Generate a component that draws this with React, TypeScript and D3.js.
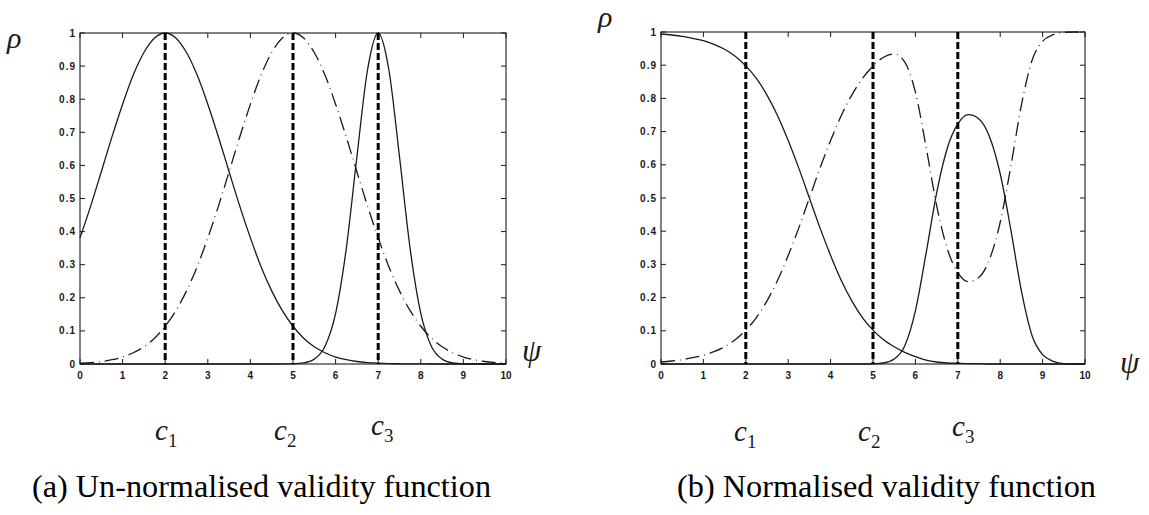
import React from "react";
import * as d3 from "d3";

// ψ sample grid
const PSI = [0, 0.25, 0.5, 0.75, 1, 1.25, 1.5, 1.75, 2, 2.25, 2.5, 2.75, 3, 3.25, 3.5, 3.75, 4, 4.25, 4.5, 4.75, 5, 5.25, 5.5, 5.75, 6, 6.25, 6.5, 6.75, 7, 7.25, 7.5, 7.75, 8, 8.25, 8.5, 8.75, 9, 9.25, 9.5, 9.75, 10];

// (a) un-normalised validity functions
const UN1 = [0.381, 0.477, 0.581, 0.686, 0.785, 0.873, 0.941, 0.985, 1, 0.985, 0.941, 0.873, 0.785, 0.686, 0.581, 0.477, 0.381, 0.294, 0.221, 0.161, 0.114, 0.078, 0.052, 0.034, 0.021, 0.013, 0.0075, 0.0043, 0.0024, 0.0013, 0.0007, 0.0003, 0.0002, 0, 0, 0, 0, 0, 0, 0, 0];
const UN2 = [0.0024, 0.0043, 0.0075, 0.013, 0.021, 0.034, 0.052, 0.078, 0.114, 0.161, 0.221, 0.294, 0.381, 0.477, 0.581, 0.686, 0.785, 0.873, 0.941, 0.985, 1, 0.985, 0.941, 0.873, 0.785, 0.686, 0.581, 0.477, 0.381, 0.294, 0.221, 0.161, 0.114, 0.078, 0.052, 0.034, 0.021, 0.013, 0.0075, 0.0043, 0.0024];
const UN3 = [0, 0, 0, 0, 0, 0, 0, 0, 0, 0, 0, 0, 0, 0, 0, 0, 0, 0, 0, 0.0001, 0.0006, 0.0032, 0.0147, 0.053, 0.153, 0.348, 0.626, 0.889, 1, 0.889, 0.626, 0.348, 0.153, 0.053, 0.0147, 0.0032, 0.0006, 0.0001, 0, 0, 0];

// (b) normalised validity functions
const N1 = [0.994, 0.991, 0.987, 0.981, 0.974, 0.963, 0.948, 0.927, 0.898, 0.86, 0.81, 0.748, 0.673, 0.59, 0.5, 0.41, 0.327, 0.252, 0.19, 0.14, 0.102, 0.073, 0.052, 0.035, 0.022, 0.012, 0.006, 0.003, 0.002, 0.001, 0.001, 0, 0, 0, 0, 0, 0, 0, 0, 0, 0];
const N2 = [0.006, 0.009, 0.013, 0.019, 0.026, 0.037, 0.052, 0.073, 0.102, 0.14, 0.19, 0.252, 0.327, 0.41, 0.5, 0.59, 0.673, 0.748, 0.81, 0.86, 0.897, 0.924, 0.934, 0.909, 0.819, 0.655, 0.478, 0.348, 0.275, 0.248, 0.261, 0.316, 0.427, 0.595, 0.78, 0.914, 0.972, 0.992, 0.999, 1, 1];
const N3 = [0, 0, 0, 0, 0, 0, 0, 0, 0, 0, 0, 0, 0, 0, 0, 0, 0, 0, 0, 0, 0.0005, 0.003, 0.015, 0.055, 0.16, 0.332, 0.515, 0.649, 0.723, 0.751, 0.738, 0.684, 0.573, 0.405, 0.22, 0.086, 0.028, 0.008, 0.001, 0, 0];

const CENTRES = [2, 5, 7];
const X_TICKS = [0, 1, 2, 3, 4, 5, 6, 7, 8, 9, 10];
const Y_TICKS = [0, 0.1, 0.2, 0.3, 0.4, 0.5, 0.6, 0.7, 0.8, 0.9, 1];
const Y_TICK_LABELS = ["0", "0.1", "0.2", "0.3", "0.4", "0.5", "0.6", "0.7", "0.8", "0.9", "1"];
const CENTRE_LABELS = ["1", "2", "3"];
const CAPTIONS = ["(a) Un-normalised validity function", "(b) Normalised validity function"];

const INK = "#1a1a1a";
const SERIF = "Liberation Serif, Times New Roman, serif";
const SANS = "Liberation Sans, Arial, sans-serif";

type PanelProps = {
  left: number;
  right: number;
  top: number;
  bottom: number;
  series: number[][];
  dashed: boolean[];
  rho: [number, number];
  psi: [number, number];
  cLabelX: number[];
  cLabelY: number[];
  caption: string;
  captionX: [number, number];
  captionY: number;
};

function Panel(p: PanelProps) {
  const x = d3.scaleLinear().domain([0, 10]).range([p.left, p.right]);
  const y = d3.scaleLinear().domain([0, 1]).range([p.bottom, p.top]);
  const line = d3
    .line<number>()
    .x((_, i) => x(PSI[i]))
    .y((v) => y(v))
    .curve(d3.curveMonotoneX);
  const tk = 5;
  return (
    <g>
      <rect x={p.left} y={p.top} width={p.right - p.left} height={p.bottom - p.top} fill="none" stroke={INK} strokeWidth={1.1} />
      {X_TICKS.map((t) => (
        <g key={"xt" + t}>
          <line x1={x(t)} x2={x(t)} y1={p.bottom} y2={p.bottom - tk} stroke={INK} strokeWidth={1} />
          <line x1={x(t)} x2={x(t)} y1={p.top} y2={p.top + tk} stroke={INK} strokeWidth={1} />
          <text x={x(t)} y={p.bottom + 15} fontFamily={SANS} fontSize={10} fontWeight="bold" textAnchor="middle" fill={INK}>
            {t}
          </text>
        </g>
      ))}
      {Y_TICKS.map((t, i) => (
        <g key={"yt" + t}>
          <line x1={p.left} x2={p.left + tk} y1={y(t)} y2={y(t)} stroke={INK} strokeWidth={1} />
          <line x1={p.right} x2={p.right - tk} y1={y(t)} y2={y(t)} stroke={INK} strokeWidth={1} />
          <text x={p.left - 4} y={y(t) + 3.5} fontFamily={SANS} fontSize={10} fontWeight="bold" letterSpacing={1} textAnchor="end" fill={INK}>
            {Y_TICK_LABELS[i]}
          </text>
        </g>
      ))}
      {p.series.map((s, i) => (
        <path
          key={"s" + i}
          d={line(s) || ""}
          fill="none"
          stroke={INK}
          strokeWidth={1.3}
          strokeDasharray={p.dashed[i] ? "14,5,0.8,5" : undefined}
        />
      ))}
      {CENTRES.map((c) => (
        <line key={"c" + c} x1={x(c)} x2={x(c)} y1={y(1)} y2={y(0)} stroke="#000" strokeWidth={3} strokeDasharray="7,3" />
      ))}
      <text x={p.rho[0]} y={p.rho[1]} fontFamily={SERIF} fontStyle="italic" fontSize={30} fill={INK}>
        ρ
      </text>
      <text x={p.psi[0]} y={p.psi[1]} fontFamily={SERIF} fontStyle="italic" fontSize={31} fill={INK}>
        ψ
      </text>
      {CENTRE_LABELS.map((lab, i) => (
        <text key={"cl" + i} x={p.cLabelX[i]} y={p.cLabelY[i]} fontFamily={SERIF} fill={INK}>
          <tspan fontStyle="italic" fontSize={29}>c</tspan>
          <tspan fontSize={19} dy={7}>{lab}</tspan>
        </text>
      ))}
      <text
        x={p.captionX[0]}
        y={p.captionY}
        fontFamily={SERIF}
        fontSize={31}
        fill="#000"
        textLength={p.captionX[1] - p.captionX[0]}
        lengthAdjust="spacingAndGlyphs"
      >
        {p.caption}
      </text>
    </g>
  );
}

export default function App() {
  return (
    <svg width={1149} height={515} style={{ position: "absolute", left: 0, top: 0, background: "#fff" }}>
      <rect width={1149} height={515} fill="#fff" />
      <Panel
        left={80}
        right={506}
        top={33}
        bottom={364}
        series={[UN1, UN2, UN3]}
        dashed={[false, true, false]}
        rho={[7, 48]}
        psi={[522, 361]}
        cLabelX={[155, 274, 371]}
        cLabelY={[440, 440, 435]}
        caption={CAPTIONS[0]}
        captionX={[32, 491]}
        captionY={497}
      />
      <Panel
        left={661}
        right={1085}
        top={32}
        bottom={364}
        series={[N1, N2, N3]}
        dashed={[false, true, false]}
        rho={[598, 27]}
        psi={[1120, 373]}
        cLabelX={[734, 858, 952]}
        cLabelY={[441, 441, 436]}
        caption={CAPTIONS[1]}
        captionX={[677, 1096]}
        captionY={497}
      />
    </svg>
  );
}
